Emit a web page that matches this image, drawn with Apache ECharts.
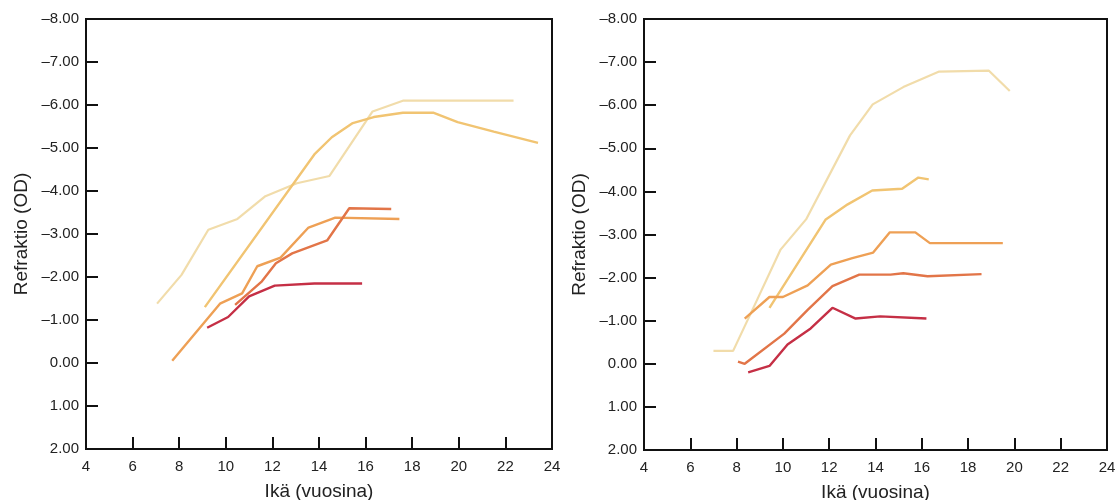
<!DOCTYPE html>
<html>
<head>
<meta charset="utf-8">
<script src="https://cdn.jsdelivr.net/npm/echarts@6/dist/echarts.min.js"></script>
<style>
html,body{margin:0;padding:0;background:#fff;}
#chart{width:1120px;height:500px;}
</style>
</head>
<body>
<div id="chart"></div>
<script>
// ---- data (age in years, refraction in D) ----
const xTickLabels = ['4','6','8','10','12','14','16','18','20','22','24'];
const yTickValues = [-8,-7,-6,-5,-4,-3,-2,-1,0,1,2];
const yTickLabels = ['\u20138.00','\u20137.00','\u20136.00','\u20135.00','\u20134.00','\u20133.00','\u20132.00','\u20131.00','0.00','1.00','2.00'];
const xAxisName = 'Ikä (vuosina)';
const yAxisName = 'Refraktio (OD)';

// left panel
const leftPale   = [[7.05,-1.38],[8.1,-2.05],[9.25,-3.1],[10.5,-3.35],[11.7,-3.88],[13.05,-4.18],[14.45,-4.35],[16.3,-5.85],[17.6,-6.1],[22.35,-6.1]];
const leftYellow = [[9.1,-1.3],[13.8,-4.85],[14.55,-5.25],[15.45,-5.58],[16.35,-5.72],[17.6,-5.82],[18.9,-5.82],[19.95,-5.6],[21.5,-5.38],[23.4,-5.12]];
const leftOrange = [[7.7,-0.05],[9.75,-1.38],[10.7,-1.62],[11.35,-2.25],[12.35,-2.45],[13.55,-3.15],[14.7,-3.38],[17.45,-3.35]];
const leftDark   = [[10.4,-1.35],[11.55,-1.9],[12.15,-2.32],[12.85,-2.55],[14.35,-2.85],[15.3,-3.6],[17.1,-3.58]];
const leftRed    = [[9.2,-0.82],[10.1,-1.07],[11.0,-1.55],[12.1,-1.8],[13.8,-1.85],[15.85,-1.85]];

// right panel
const rightPale      = [[7.0,-0.3],[7.85,-0.3],[8.9,-1.5],[9.9,-2.65],[11.0,-3.35],[12.9,-5.3],[13.88,-6.02],[15.2,-6.42],[16.75,-6.78],[18.9,-6.8],[19.8,-6.33]];
const rightYellow    = [[9.42,-1.3],[11.85,-3.35],[12.8,-3.7],[13.86,-4.02],[15.15,-4.06],[15.85,-4.32],[16.3,-4.28]];
const rightOrange    = [[8.35,-1.05],[9.42,-1.55],[10.0,-1.55],[11.07,-1.82],[12.07,-2.3],[13.0,-2.45],[13.9,-2.58],[14.62,-3.05],[15.72,-3.05],[16.35,-2.8],[19.5,-2.8]];
const rightOrangeRed = [[8.06,-0.05],[8.35,0.0],[10.06,-0.7],[11.07,-1.25],[12.14,-1.8],[13.3,-2.07],[14.65,-2.07],[15.2,-2.1],[16.25,-2.03],[18.58,-2.08]];
const rightRed       = [[8.5,0.2],[9.42,0.05],[10.2,-0.45],[11.2,-0.82],[12.14,-1.3],[13.14,-1.05],[14.2,-1.1],[16.2,-1.05]];

const colPale = '#f1dcaa', colYellow = '#f1c472', colOrange = '#eea055', colDark = '#e27548', colRed = '#c52f45';

// ---- chart ----
const font = 'Liberation Sans, Arial, Helvetica, sans-serif';
function mkX(gi){
  return {
    gridIndex: gi, type: 'value', min: 4, max: 24, interval: 2,
    name: xAxisName, nameLocation: 'middle', nameGap: 33,
    nameTextStyle: {fontFamily: font, fontSize: 19, color: '#222'},
    axisLine: {show: true, onZero: false, lineStyle: {color: '#111', width: 2}},
    axisTick: {show: true, inside: true, length: 12, lineStyle: {color: '#111', width: 2}},
    axisLabel: {fontFamily: font, fontSize: 15, color: '#222', margin: 10,
      formatter: v => xTickLabels[Math.round((v - 4) / 2)] || ''},
    splitLine: {show: false}
  };
}
function mkY(gi){
  return {
    gridIndex: gi, type: 'value', min: -8, max: 2, interval: 1, inverse: true,
    name: yAxisName, nameLocation: 'middle', nameGap: 55,
    nameTextStyle: {fontFamily: font, fontSize: 19, color: '#222'},
    axisLine: {show: true, onZero: false, lineStyle: {color: '#111', width: 2}},
    axisTick: {show: true, inside: true, length: 12, lineStyle: {color: '#111', width: 2}},
    axisLabel: {fontFamily: font, fontSize: 15, color: '#222', margin: 7,
      formatter: v => { const i = yTickValues.indexOf(Math.round(v)); return i >= 0 ? yTickLabels[i] : ''; }},
    splitLine: {show: false}
  };
}
function ser(data, color, xi, w){
  return {type: 'line', xAxisIndex: xi, yAxisIndex: xi, data: data, showSymbol: false, symbol: 'none',
    lineStyle: {color: color, width: w || 2}, itemStyle: {color: color}, silent: true, animation: false, z: 3};
}
const chart = echarts.init(document.getElementById('chart'), null, {renderer: 'canvas'});
chart.setOption({
  backgroundColor: '#fff',
  animation: false,
  grid: [
    {left: 86, top: 19, width: 466, height: 430, show: true, borderColor: '#111', borderWidth: 2, backgroundColor: 'transparent', containLabel: false, outerBoundsMode: 'none'},
    {left: 644, top: 19, width: 463, height: 431, show: true, borderColor: '#111', borderWidth: 2, backgroundColor: 'transparent', containLabel: false, outerBoundsMode: 'none'}
  ],
  xAxis: [mkX(0), mkX(1)],
  yAxis: [mkY(0), mkY(1)],
  series: [
    ser(leftPale, colPale, 0, 2.2), ser(leftYellow, colYellow, 0, 2.4), ser(leftOrange, colOrange, 0, 2.4),
    ser(leftDark, colDark, 0, 2.4), ser(leftRed, colRed, 0, 2.4),
    ser(rightPale, colPale, 1, 2.2), ser(rightYellow, colYellow, 1, 2.4), ser(rightOrange, colOrange, 1, 2.4),
    ser(rightOrangeRed, colDark, 1, 2.4), ser(rightRed, colRed, 1, 2.4)
  ]
});
</script>
</body>
</html>
